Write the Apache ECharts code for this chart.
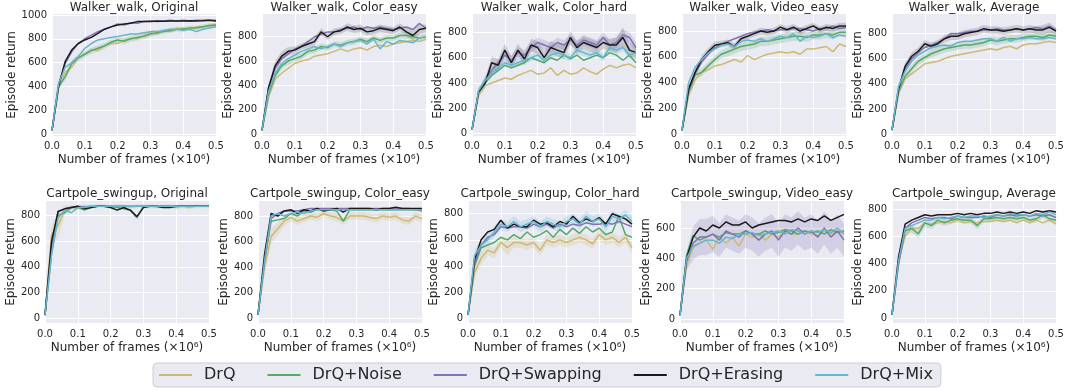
<!DOCTYPE html>
<html><head><meta charset="utf-8">
<script src="https://cdn.jsdelivr.net/npm/echarts@6/dist/echarts.min.js"></script>
<style>html,body{margin:0;padding:0;background:#fff}#c{width:1068px;height:391px}</style>
</head><body><div id="c"></div>
<script>
// ---------- data ----------
const frames = [0,0.02,0.04,0.06,0.08,0.1,0.12,0.14,0.16,0.18,0.2,0.22,0.24,0.26,0.28,0.3,0.32,0.34,0.36,0.38,0.4,0.42,0.44,0.46,0.48,0.5];
const methods = ['DrQ','DrQ+Noise','DrQ+Swapping','DrQ+Erasing','DrQ+Mix'];
const xTicks = [0,0.1,0.2,0.3,0.4,0.5];
const yTicks1000 = [0,200,400,600,800,1000];
const yTicks800 = [0,200,400,600,800];
const yTicks600 = [0,200,400,600];

// Walker_walk, Original
const wo_drq   = [30,380,520,560,640,670,710,700,740,760,760,790,800,800,830,850,840,870,860,880,890,880,900,900,915,920];
const wo_noise = [30,400,480,590,640,670,700,720,740,770,790,780,800,810,820,840,850,860,870,880,880,890,890,900,910,915];
const wo_swap  = [30,420,590,690,760,800,830,860,880,900,925,915,935,930,945,950,945,950,955,950,955,950,955,955,955,955];
const wo_erase = [30,400,607,705,760,790,812,845,880,900,915,924,930,944,944,945,950,948,950,950,950,952,950,952,955,950];
const wo_mix   = [30,420,560,600,650,720,760,790,800,810,820,830,840,840,850,860,860,870,880,880,870,880,860,880,890,900];
// Walker_walk, Color_easy
const we_drq   = [30,300,450,500,540,580,600,610,640,650,660,680,700,680,700,710,690,720,730,720,740,750,760,770,760,780];
const we_noise = [30,330,480,560,600,620,640,680,690,720,710,740,730,750,760,780,760,790,770,790,790,810,810,800,790,800];
const we_swap  = [30,380,540,620,660,700,720,760,800,820,840,840,860,870,880,860,880,870,880,870,860,870,880,860,910,870];
const we_erase = [30,380,560,640,680,690,720,740,760,840,800,840,850,880,860,870,840,850,870,860,850,880,840,810,860,870];
const we_mix   = [30,350,500,580,620,650,680,700,720,700,720,740,720,750,760,770,740,780,700,760,740,770,760,750,790,800];
// Walker_walk, Color_hard
const wh_drq   = [30,300,380,400,420,440,430,460,480,500,470,480,520,460,500,470,480,520,490,470,510,540,520,540,550,520];
const wh_noise = [30,320,400,460,500,540,520,540,560,600,580,560,600,580,620,590,620,580,600,620,600,640,620,580,620,560];
const wh_swap  = [30,330,420,500,560,620,580,640,620,680,720,700,680,720,700,740,700,740,720,700,760,700,720,780,760,680];
const wh_erase = [30,330,400,560,540,660,560,660,590,700,680,600,680,660,640,760,680,720,700,680,720,700,700,760,660,640];
const wh_mix   = [30,340,420,480,520,560,540,560,580,600,620,580,620,640,620,600,660,640,620,640,600,680,660,680,620,640];
// Walker_walk, Video_easy
const wv_drq   = [30,300,420,480,500,530,540,560,580,560,610,580,600,620,630,640,630,640,620,660,660,670,680,640,700,680];
const wv_noise = [30,320,460,480,530,580,620,640,660,680,690,700,720,720,730,740,750,760,760,750,770,770,780,770,790,790];
const wv_swap  = [30,340,470,560,620,670,700,720,740,760,780,790,800,810,800,810,810,820,820,810,800,820,820,840,820,830];
const wv_erase = [30,350,480,580,640,690,700,710,680,740,760,780,800,790,800,830,810,830,800,820,840,810,830,820,840,840];
const wv_mix   = [30,400,520,580,630,660,690,700,680,720,730,720,740,720,740,760,750,780,720,760,750,760,780,750,770,760];
// Walker_walk, Average
const wa_drq   = [30,320,440,480,520,560,570,580,600,620,630,640,650,660,670,680,670,690,700,680,710,720,720,730,740,730];
const wa_noise = [30,340,460,520,580,610,640,660,680,690,700,710,710,720,730,750,740,750,760,760,770,780,780,770,790,780];
const wa_swap  = [30,360,520,600,650,690,710,730,760,800,800,810,820,820,830,830,840,830,830,840,830,840,850,840,860,830];
const wa_erase = [30,360,540,620,660,720,700,720,760,780,780,800,810,820,840,830,830,820,830,840,830,840,830,830,850,820];
const wa_mix   = [30,380,500,580,630,660,690,700,710,700,730,740,740,750,760,760,740,770,740,760,760,770,760,760,770,760];
// Cartpole_swingup, Original
const co_drq   = [25,650,720,840,860,860,870,865,870,870,865,870,870,865,870,870,870,865,870,870,860,870,860,870,870,870];
const co_noise = [25,500,800,820,860,860,840,860,870,870,870,860,850,840,780,870,870,870,870,870,870,870,870,870,870,870];
const co_swap  = [25,550,830,850,860,870,865,870,870,870,870,870,870,870,870,870,870,870,870,870,870,875,870,875,870,870];
const co_erase = [25,600,830,850,860,870,850,860,870,870,860,840,860,840,790,860,870,870,860,860,870,870,870,870,870,870];
const co_mix   = [25,500,780,840,820,860,860,870,870,870,870,870,870,870,870,870,870,870,870,870,870,870,870,870,870,870];
// Cartpole_swingup, Color_easy
const ce_drq   = [25,400,640,700,760,790,760,780,800,790,820,800,790,760,800,800,800,790,780,800,790,800,770,760,800,780];
const ce_noise = [25,450,760,770,780,820,800,840,830,850,850,850,840,760,850,850,850,850,850,850,850,850,850,850,850,840];
const ce_swap  = [25,450,780,820,840,840,840,850,860,860,860,860,860,860,860,860,860,860,860,860,860,860,860,860,850,850];
const ce_erase = [25,500,820,800,840,850,820,850,840,860,840,850,860,830,860,860,860,860,850,860,860,870,860,860,860,860];
const ce_mix   = [25,450,800,820,800,820,830,820,840,850,850,850,850,850,850,850,850,850,850,850,850,850,850,850,850,850];
// Cartpole_swingup, Color_hard
const ch_drq   = [25,350,460,520,500,580,540,580,580,560,580,520,600,580,600,580,600,620,600,570,640,600,620,580,620,540];
const ch_noise = [25,400,540,560,580,620,600,640,610,660,620,640,670,620,680,640,690,650,700,660,690,640,660,780,640,620];
const ch_swap  = [25,420,560,620,640,700,690,700,700,690,720,700,720,690,720,700,720,710,730,720,720,730,720,740,720,700];
const ch_erase = [25,450,600,660,680,750,690,720,700,700,750,720,730,700,740,720,780,730,760,740,770,720,800,780,760,720];
const ch_mix   = [25,480,560,600,660,720,700,740,700,720,740,700,740,720,700,740,760,720,780,740,760,700,780,760,790,740];
// Cartpole_swingup, Video_easy
const cv_drq   = [25,350,470,500,520,460,540,500,540,480,560,540,560,520,560,540,580,560,560,580,560,550,580,560,580,570];
const cv_noise = [25,420,550,520,540,560,540,570,560,560,580,560,560,580,560,570,590,580,560,580,570,580,560,590,570,580];
const cv_swap  = [25,380,500,540,540,560,520,580,560,540,580,560,520,560,580,520,580,560,600,560,580,540,600,540,580,520];
const cv_erase = [25,400,540,600,580,620,600,640,620,620,640,600,620,630,640,650,650,640,660,640,660,650,680,650,670,690];
const cv_mix   = [25,400,480,500,520,520,500,540,530,560,560,570,550,560,570,580,560,590,580,560,580,570,590,570,600,560];
// Cartpole_swingup, Average
const ca_drq   = [25,420,600,660,660,700,690,700,710,700,720,700,710,700,710,710,720,710,720,700,720,700,720,700,720,690];
const ca_noise = [25,400,640,660,620,700,680,720,700,720,730,720,720,680,730,730,740,730,740,730,740,720,730,760,730,720];
const ca_swap  = [25,400,660,700,720,740,730,740,740,730,750,740,740,740,750,740,760,750,760,750,760,750,760,750,760,740];
const ca_erase = [25,450,690,720,740,760,750,760,760,760,770,760,770,760,770,770,780,770,780,770,780,770,790,780,790,780];
const ca_mix   = [25,420,660,680,700,720,720,740,730,740,750,740,750,750,740,750,760,750,770,760,760,750,770,760,780,760];

// half-widths of the most visible shaded spreads
const wo_noise_sd = [0,25,30,30,30,25,25,25,25,25,25,25,25,25,25,25,20,20,20,20,20,20,20,20,20,20];
const we_erase_sd = [0,30,40,40,35,30,25,30,30,30,25,30,25,30,30,30,30,30,30,30,30,30,35,40,40,30];
const we_noise_sd = [0,20,30,30,30,30,25,25,25,25,25,25,25,25,25,25,25,25,25,25,25,25,25,25,25,25];
const wh_erase_sd = [0,30,40,50,50,50,50,50,50,50,50,50,50,50,50,50,50,50,50,50,50,50,60,80,60,50];
const wh_swap_sd  = [0,20,30,30,30,40,40,40,40,40,40,40,40,40,40,40,40,40,40,40,40,40,40,40,40,40];
const wh_mix_sd   = [0,20,30,30,30,30,30,30,30,30,30,30,30,30,30,30,30,30,30,30,30,30,30,30,30,30];
const wv_noise_sd = [0,20,30,30,30,30,30,35,35,35,35,35,35,35,35,35,35,35,35,35,35,35,35,35,35,35];
const wv_erase_sd = [0,20,30,30,30,30,25,25,25,25,25,25,25,25,25,25,25,25,25,25,25,25,25,25,25,25];
const wa_erase_sd = [0,20,30,30,30,30,30,30,30,30,30,30,30,30,30,30,30,30,30,30,30,30,30,40,40,30];
const wa_noise_sd = [0,20,25,30,30,30,30,30,30,30,30,30,30,30,30,30,30,30,30,30,30,30,30,30,30,30];
const co_drq_sd   = [0,80,100,40,20,15,15,15,15,15,15,15,15,15,15,15,15,15,15,15,15,15,15,15,15,15];
const ce_drq_sd   = [0,60,60,50,40,30,30,30,30,30,30,30,30,30,30,30,30,30,30,30,30,30,30,30,30,30];
const ch_mix_sd   = [0,40,40,40,40,40,40,40,40,40,40,40,40,40,40,40,40,40,40,40,40,40,40,40,40,40];
const ch_drq_sd   = [0,40,50,40,40,40,60,40,40,40,40,40,40,40,40,40,40,40,40,40,40,40,40,40,40,40];
const cv_swap_sd  = [0,60,110,120,120,120,110,110,110,110,110,110,110,110,110,110,110,110,110,110,110,110,110,110,110,110];
const ca_noise_sd = [0,30,30,30,30,30,25,25,25,25,25,25,25,25,25,25,25,25,25,25,25,25,25,25,25,25];

const titles = ['Walker_walk, Original','Walker_walk, Color_easy','Walker_walk, Color_hard','Walker_walk, Video_easy','Walker_walk, Average',
  'Cartpole_swingup, Original','Cartpole_swingup, Color_easy','Cartpole_swingup, Color_hard','Cartpole_swingup, Video_easy','Cartpole_swingup, Average'];
const panelSeries = [
  [wo_drq,wo_noise,wo_swap,wo_erase,wo_mix],
  [we_drq,we_noise,we_swap,we_erase,we_mix],
  [wh_drq,wh_noise,wh_swap,wh_erase,wh_mix],
  [wv_drq,wv_noise,wv_swap,wv_erase,wv_mix],
  [wa_drq,wa_noise,wa_swap,wa_erase,wa_mix],
  [co_drq,co_noise,co_swap,co_erase,co_mix],
  [ce_drq,ce_noise,ce_swap,ce_erase,ce_mix],
  [ch_drq,ch_noise,ch_swap,ch_erase,ch_mix],
  [cv_drq,cv_noise,cv_swap,cv_erase,cv_mix],
  [ca_drq,ca_noise,ca_swap,ca_erase,ca_mix]
];
// [panel, method, spread]
const bands = [
  [0,1,wo_noise_sd],[1,3,we_erase_sd],[1,1,we_noise_sd],[2,3,wh_erase_sd],[2,2,wh_swap_sd],[2,4,wh_mix_sd],
  [3,1,wv_noise_sd],[3,3,wv_erase_sd],[4,3,wa_erase_sd],[4,1,wa_noise_sd],[5,0,co_drq_sd],[6,0,ce_drq_sd],
  [7,4,ch_mix_sd],[7,0,ch_drq_sd],[8,2,cv_swap_sd],[9,1,ca_noise_sd]
];
const yMin = [-17,-16,-18,-13,-16,-36,-39,-36,-26,-37];
const yMax = [1008,987,945,932,957,911,918,897,778,861];
const yTickSets = [yTicks1000,yTicks800,yTicks800,yTicks800,yTicks800,yTicks800,yTicks800,yTicks800,yTicks600,yTicks800];

// ---------- layout / style ----------
const colors = ['#CCB974','#55A868','#8172B3','#1a1a1a','#64B5CD'];
const gridLeft = [52,262,472,682,892, 45,258,468,680,892];
const gridTop = [14,14,14,14,14, 201,201,201,201,201];
const gridW = 164, gridH = 122;
const yNameGap = [31,25,25,25,27, 26,25,25,25,26];
const txt = '#262626';
const font = 'DejaVu Sans';

function hexA(hex, a) {
  const n = parseInt(hex.slice(1), 16);
  return 'rgba(' + (n >> 16 & 255) + ',' + (n >> 8 & 255) + ',' + (n & 255) + ',' + a + ')';
}

const grid = [], xAxis = [], yAxis = [], title = [], series = [];
for (let i = 0; i < 10; i++) {
  grid.push({left: gridLeft[i], top: gridTop[i], width: gridW, height: gridH,
    show: true, backgroundColor: '#EAEAF2', borderWidth: 0, containLabel: false});
  xAxis.push({type: 'value', gridIndex: i, min: 0, max: 0.5, interval: 0.1,
    name: 'Number of frames (×10⁶)', nameLocation: 'middle', nameGap: i < 5 ? 18 : 19,
    nameTextStyle: {fontSize: 12, color: txt, fontFamily: font},
    axisLine: {show: false}, axisTick: {show: false},
    axisLabel: {fontSize: 10, color: txt, fontFamily: font, margin: i < 5 ? 5 : 6,
      formatter: v => v.toFixed(1), showMinLabel: true, showMaxLabel: true},
    splitLine: {show: true, lineStyle: {color: '#ffffff', width: 1}}});
  yAxis.push({type: 'value', gridIndex: i, min: yMin[i], max: yMax[i],
    name: 'Episode return', nameLocation: 'middle', nameGap: yNameGap[i],
    nameTextStyle: {fontSize: 12, color: txt, fontFamily: font},
    axisLine: {show: false},
    axisTick: {show: false, customValues: yTickSets[i]},
    axisLabel: {fontSize: 10, color: txt, fontFamily: font, margin: 5, customValues: yTickSets[i],
      formatter: v => String(Math.round(v))},
    splitLine: {show: true, lineStyle: {color: '#ffffff', width: 1}}});
  title.push({text: titles[i], left: gridLeft[i] + gridW / 2, textAlign: 'center',
    top: i < 5 ? 2 : 188, padding: 0,
    textStyle: {fontSize: 12, fontWeight: 'normal', color: txt, fontFamily: font}});
  panelSeries[i].forEach((arr, k) => {
    series.push({name: methods[k], type: 'line', xAxisIndex: i, yAxisIndex: i,
      data: frames.map((x, j) => [x, arr[j]]), showSymbol: false, symbol: 'none',
      lineStyle: {width: 1.5, color: colors[k]}, itemStyle: {color: colors[k]},
      animation: false, silent: true, z: 3 + k});
  });
}
bands.forEach(([p, k, sd], b) => {
  const mean = panelSeries[p][k];
  const fill = hexA(colors[k], k === 3 ? 0.16 : 0.22);
  series.push({name: 'spread-' + b, type: 'custom', coordinateSystem: 'cartesian2d',
    xAxisIndex: p, yAxisIndex: p, clip: true, silent: true, z: 1, animation: false,
    data: frames.map((x, j) => [x, mean[j] - sd[j], mean[j] + sd[j]]),
    encode: {x: 0, y: [1, 2]},
    renderItem: (params, api) => {
      if (params.dataIndex !== 0) return null;
      const pts = [];
      for (let j = 0; j < frames.length; j++) pts.push(api.coord([frames[j], mean[j] + sd[j]]));
      for (let j = frames.length - 1; j >= 0; j--) pts.push(api.coord([frames[j], mean[j] - sd[j]]));
      return {type: 'polygon', shape: {points: pts}, style: {fill: fill, stroke: null}};
    }});
});

const chart = echarts.init(document.getElementById('c'), null, {renderer: 'canvas'});
chart.setOption({
  animation: false,
  color: colors,
  title, grid, xAxis, yAxis, series,
  legend: {data: methods, left: 153, top: 363, icon: 'rect', itemWidth: 33, itemHeight: 2,
    itemGap: 32, padding: [4, 8, 4, 6], backgroundColor: '#EAEAF2', borderColor: '#CCCCD4',
    borderWidth: 1, borderRadius: 4,
    textStyle: {fontSize: 16, color: txt, fontFamily: font, padding: [0, 0, 0, 7]}}
});
</script></body></html>
